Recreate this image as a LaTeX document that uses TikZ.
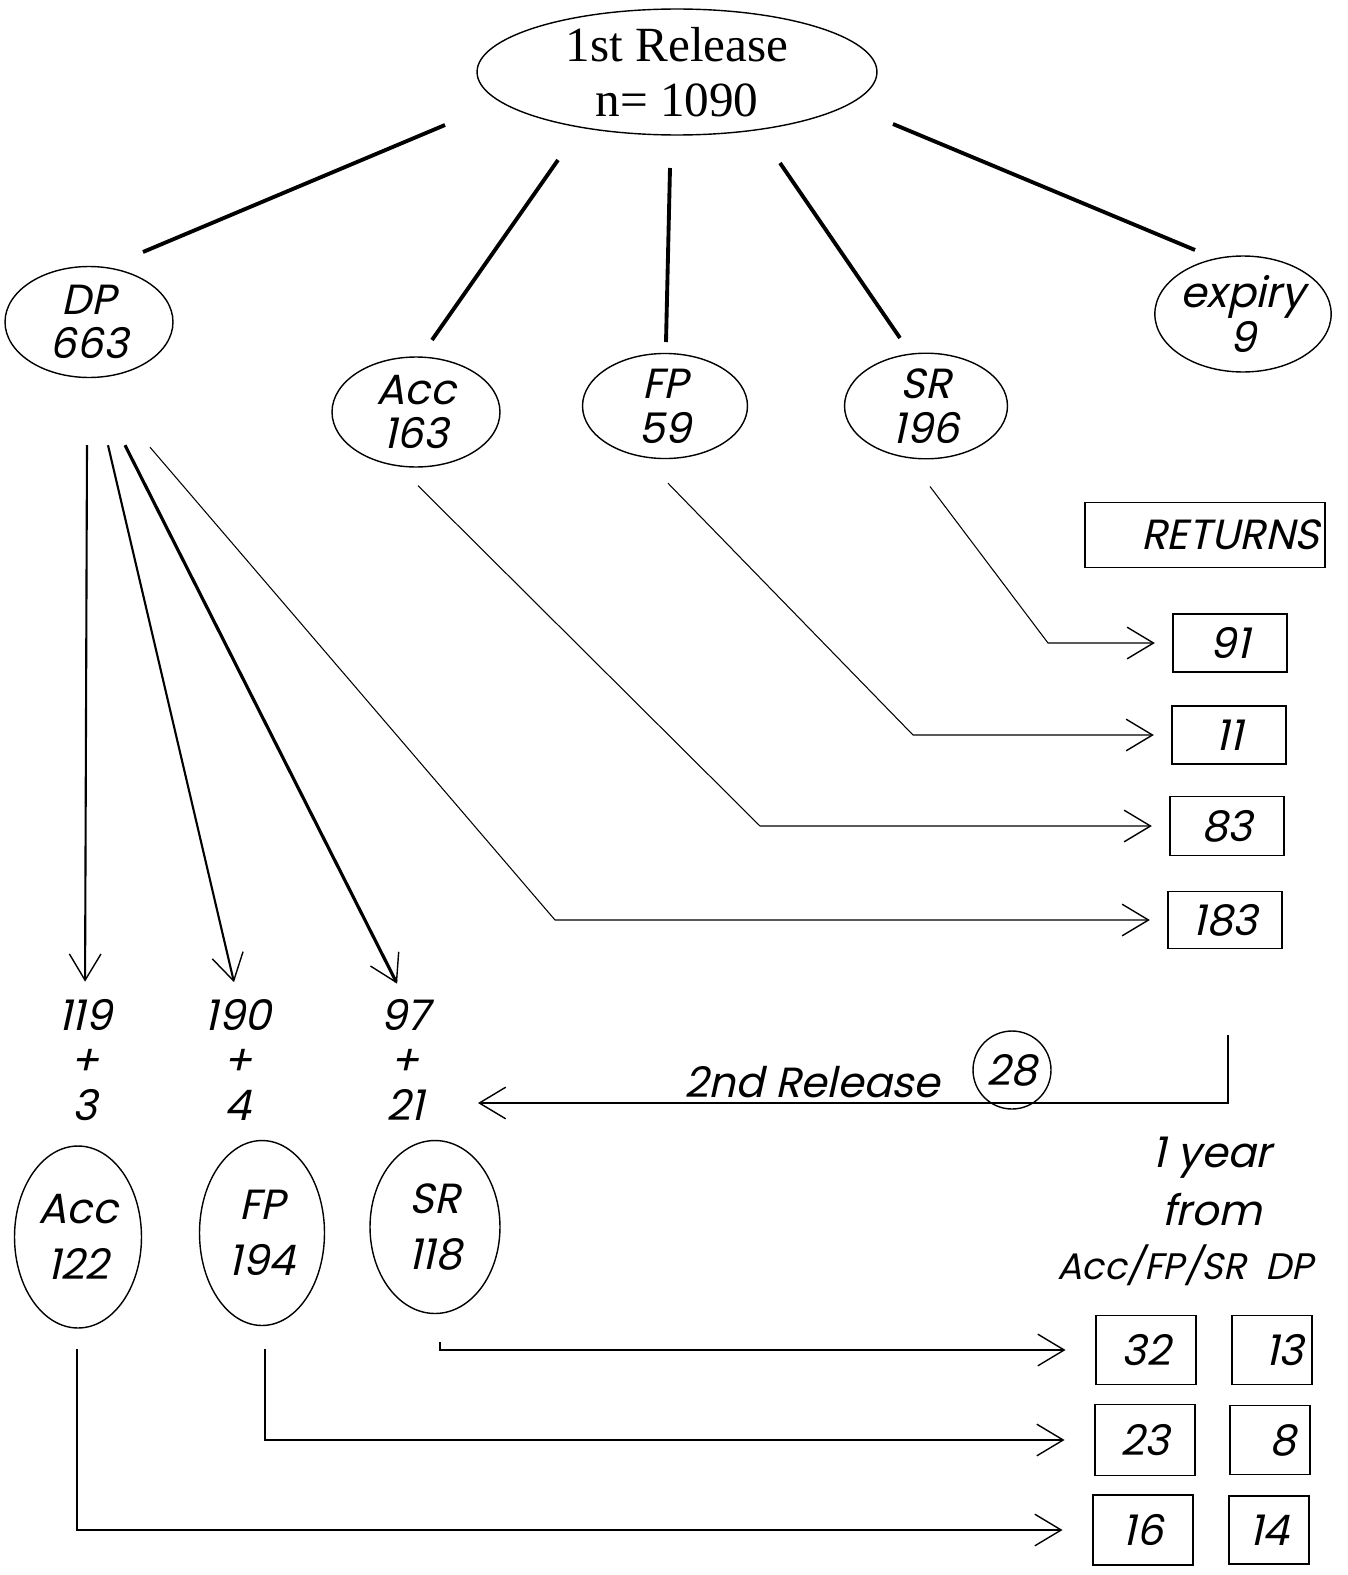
\documentclass[tikz,border=0pt]{standalone}
\usepackage{fontspec}
\setmainfont{Liberation Serif}
\newfontfamily\gothic[FakeSlant=0.22]{Poppins}
\usetikzlibrary{arrows.meta,shapes.geometric,calc}
\begin{document}
\begin{tikzpicture}[x=0.02cm,y=-0.02cm,
  el/.style={ellipse,draw,line width=0.8pt,inner sep=0pt},
  lab/.style={font=\gothic\fontsize{24}{25.5}\selectfont,align=center,inner sep=0pt},
  labbig/.style={font=\gothic\fontsize{24}{32}\selectfont,align=center,inner sep=0pt},
  bx/.style={draw,line width=0.7pt,font=\gothic\fontsize{24}{26}\selectfont,inner sep=0pt},
  thick line/.style={line width=2.2pt},
  thin line/.style={line width=0.6pt},
  chev/.style={-{Straight Barb[length=15pt,width=18pt,line width=0.8pt]}},
]
\useasboundingbox (0,0) rectangle (1347,1575);
% top
\node[el,minimum width=8cm,minimum height=2.5cm,font=\fontsize{28}{31}\selectfont,align=center] (top) at (677,72) {1st Release\\n= 1090};
% first level
\node[el,lab,minimum width=3.36cm,minimum height=2.22cm] (dp) at (89,322) {DP\\663};
\node[el,lab,minimum width=3.36cm,minimum height=2.2cm] (acc) at (416,412) {Acc\\163};
\node[el,lab,minimum width=3.3cm,minimum height=2.06cm] (fp) at (665,406) {FP\\59};
\node[el,lab,minimum width=3.26cm,minimum height=2.06cm] (sr) at (926,406) {SR\\196};
\node[el,lab,minimum width=3.32cm,minimum height=2.32cm] (exp) at (1243,314) {expiry\\9};
% top connectors (free ends placed relative to the nodes)
\coordinate (a1) at ($(top.center)+(-232,53)$);
\coordinate (a2) at ($(top.center)+(-119,88)$);
\coordinate (a3) at ($(top.center)+(-7,96)$);
\coordinate (a4) at ($(top.center)+(103,91)$);
\coordinate (a5) at ($(top.center)+(216,52)$);
\coordinate (b1) at ($(dp.center)+(54,-70)$);
\coordinate (b2) at ($(acc.center)+(16,-72)$);
\coordinate (b3) at ($(fp.center)+(1,-64)$);
\coordinate (b4) at ($(sr.center)+(-26,-68)$);
\coordinate (b5) at ($(exp.center)+(-48,-64)$);
\draw[thick line] (a1) -- (b1);
\draw[thick line] (a2) -- (b2);
\draw[thick line] (a3) -- (b3);
\draw[thick line] (a4) -- (b4);
\draw[thick line] (a5) -- (b5);
% returns
\node[bx,minimum width=4.8cm,minimum height=1.3cm] (ret) at (1205,535) {\hspace*{1.2em}RETURNS};
\node[bx,minimum width=2.28cm,minimum height=1.16cm] (r91) at (1230,643) {91};
\node[bx,minimum width=2.28cm,minimum height=1.16cm] (r11) at (1229,735) {11};
\node[bx,minimum width=2.28cm,minimum height=1.18cm] (r83) at (1227,826) {83};
\node[bx,minimum width=2.28cm,minimum height=1.14cm] (r183) at (1225,920) {183};
\coordinate (s1) at ($(sr.south)+(4,27)$);
\coordinate (s2) at ($(fp.south)+(3,24)$);
\coordinate (s3) at ($(acc.south)+(2,18)$);
\coordinate (s4) at ($(dp.south)+(61,69)$);
\draw[thin line,chev,shorten >=10pt] (s1) -- (1048,0 |- r91.west) -- (r91.west);
\draw[thin line,chev,shorten >=10pt] (s2) -- (913,0 |- r11.west) -- (r11.west);
\draw[thin line,chev,shorten >=10pt] (s3) -- (760,0 |- r83.west) -- (r83.west);
\draw[thin line,chev,shorten >=10pt] (s4) -- (555,0 |- r183.west) -- (r183.west);
% second level labels
\node[lab] (n1) at (85,1060) {119\\+\\3};
\node[lab] (n2) at (238,1060) {190\\+\\4};
\node[lab] (n3) at (405,1060) {97\\+\\21};
\coordinate (d1) at ($(dp.south)+(-2,67)$);
\coordinate (d2) at ($(dp.south)+(19,67)$);
\coordinate (d3) at ($(dp.south)+(36,67)$);
\draw[line width=1.2pt,chev,shorten >=10pt] (d1) -- (n1.north);
\draw[line width=1.2pt,chev,shorten >=10pt] (d2) -- (n2.north);
\draw[line width=1.8pt,chev,shorten >=10pt] (d3) -- (n3.north);
% second release
\coordinate (q0) at (1228,1035);
\coordinate (q1) at (1228,1103);
\coordinate (q2) at (478,1103);
\draw[thin line,chev] (q0) -- (q1) -- (q2);
\node[lab,anchor=base] (rel2) at (812,1097) {2nd Release};
\node[circle,draw,line width=0.8pt,minimum size=1.56cm,inner sep=0pt,font=\gothic\fontsize{24}{26}\selectfont] (c28) at (1012,1070) {28};
% bottom ellipses
\node[el,labbig,minimum width=2.54cm,minimum height=3.64cm] (acc2) at (78,1237) {Acc\\122};
\node[el,labbig,minimum width=2.5cm,minimum height=3.7cm] (fp2) at (262,1233) {FP\\194};
\node[el,labbig,minimum width=2.6cm,minimum height=3.46cm] (sr2) at (435,1227) {SR\\118};
% one year
\node[lab] (y1) at (1212,1158) {1 year};
\node[lab] (y2) at (1212,1210) {from};
\node[lab,font=\gothic\fontsize{21}{24}\selectfont] (y3) at (1185,1265) {Acc/FP/SR\ \ DP};
\node[bx,minimum width=2.0cm,minimum height=1.38cm] (b32) at (1146,1350) {32};
\node[bx,minimum width=1.6cm,minimum height=1.38cm] (b13) at (1272,1350) {\hspace*{0.6em}13};
\node[bx,minimum width=2.0cm,minimum height=1.42cm] (b23) at (1145,1440) {23};
\node[bx,minimum width=1.6cm,minimum height=1.38cm] (b8) at (1270,1440) {\hspace*{0.6em}8};
\node[bx,minimum width=2.0cm,minimum height=1.4cm] (b16) at (1143,1530) {16};
\node[bx,minimum width=1.6cm,minimum height=1.36cm] (b14) at (1269,1530) {14};
\coordinate (u1) at ($(sr2.south)+(5,28)$);
\coordinate (u2) at ($(fp2.south)+(3,23)$);
\coordinate (u3) at ($(acc2.south)+(-1,20)$);
\draw[thin line,chev,shorten >=17pt] (u1) -- (u1 |- b32.west) -- (b32.west);
\draw[thin line,chev,shorten >=17pt] (u2) -- (u2 |- b23.west) -- (b23.west);
\draw[thin line,chev,shorten >=17pt] (u3) -- (u3 |- b16.west) -- (b16.west);
\end{tikzpicture}
\end{document}
